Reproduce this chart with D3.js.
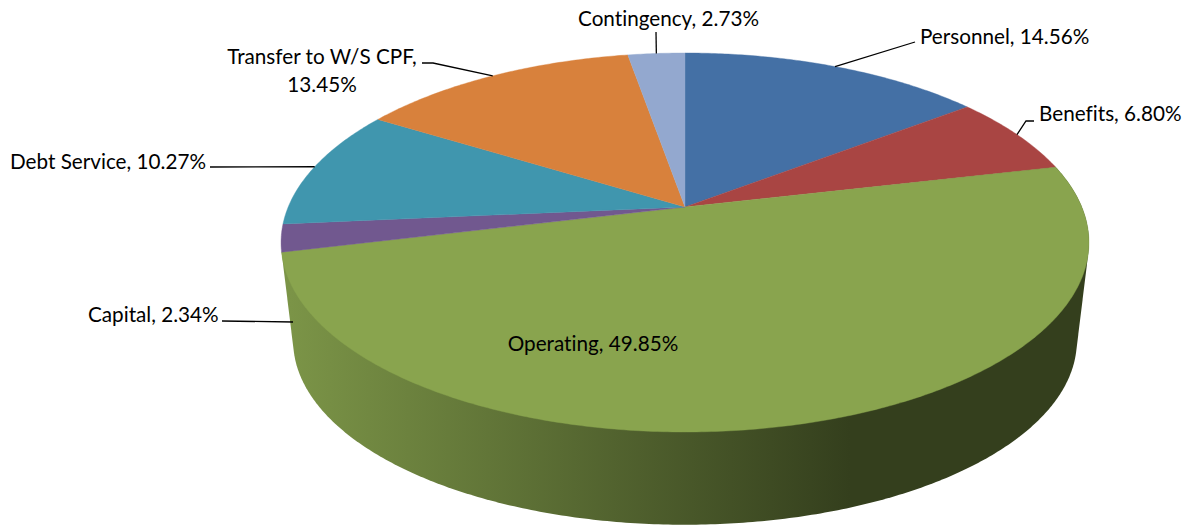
<!DOCTYPE html>
<html lang="en">
<head>
<meta charset="UTF-8" />
<title>Budget pie</title>
<script src="https://cdn.jsdelivr.net/npm/d3@7"></script>
<style>
  html, body { margin: 0; padding: 0; background: #fff; overflow: hidden; }
  text { font-family: Lato, "Open Sans", sans-serif; font-size: 20.7px; fill: #000; font-variant-ligatures: none; }
</style>
</head>
<body>
<div id="chart"></div>
<script>
const categories = ['Personnel', 'Benefits', 'Operating', 'Capital', 'Debt Service', 'Transfer to W/S CPF', 'Contingency'];
const values = [14.56, 6.80, 49.85, 2.34, 10.27, 13.45, 2.73];
const colors = ['#4470a5', '#a94543', '#89a44e', '#71588f', '#4096ae', '#d8813c', '#93a8cf'];

const width = 1184, height = 527;
const svg = d3.select('#chart').append('svg')
  .attr('width', width).attr('height', height)
  .style('display', 'block');

/* tilted disc with perspective: the far edge comes out smaller than the near one */
const cx = 685, persp = 0.1873;
const project = (angle, plane) => {
  const X = Math.sin(angle), Y = Math.cos(angle), w = 1 + persp * Y;
  return [cx + plane.a * X / w, plane.cy - plane.b * Y / w];
};
const topPlane = { a: 396.8, b: 182.85, cy: 207 };
const bottomPlane = { a: 396.8 * 0.97, b: 182.85 * 0.97, cy: 306.5 };

const arcPoints = (a0, a1, plane) => {
  const n = Math.max(2, Math.ceil(Math.abs(a1 - a0) / 0.01));
  return d3.range(n + 1).map(i => project(a0 + (a1 - a0) * i / n, plane));
};

const slices = d3.pie().sort(null)(values);
const operating = slices[categories.indexOf('Operating')];

/* side wall: only the big slice shows a front edge */
const gradX = d3.scaleLinear().domain([0, 1]).range([290, 850]);
const grad = svg.append('defs').append('linearGradient')
  .attr('id', 'wall').attr('gradientUnits', 'userSpaceOnUse')
  .attr('x1', gradX(0)).attr('x2', gradX(1)).attr('y1', 0).attr('y2', 0);
grad.append('stop').attr('offset', 0).attr('stop-color', '#7b9447');
grad.append('stop').attr('offset', 1).attr('stop-color', '#343f1d');

const hull = d3.polygonHull(
  arcPoints(operating.startAngle, operating.endAngle, topPlane)
    .concat(arcPoints(operating.startAngle, operating.endAngle, bottomPlane))
);
svg.append('path')
  .attr('d', 'M' + hull.join('L') + 'Z')
  .attr('fill', 'url(#wall)');

/* top surface */
svg.append('g').selectAll('path')
  .data(slices)
  .join('path')
    .attr('d', d => 'M' + [cx, topPlane.cy] + 'L' + arcPoints(d.startAngle, d.endAngle, topPlane).join('L') + 'Z')
    .attr('fill', (d, i) => colors[i])
    .attr('stroke', (d, i) => colors[i])
    .attr('stroke-width', 0.4);

/* labels, hand placed like the original data labels */
const labelLayout = {
  'Personnel':           { x: 920, y: 44, anchor: 'start', leader: [[915, 42]] },
  'Benefits':            { x: 1039, y: 121, anchor: 'start', leader: [[1034, 121], [1026, 121]] },
  'Operating':           { x: 593, y: 351, anchor: 'middle' },
  'Capital':             { x: 88, y: 322, anchor: 'start', leader: [[222, 321]], end: [293, 322] },
  'Debt Service':        { x: 10, y: 169, anchor: 'start', leader: [[210, 167]] },
  'Transfer to W/S CPF': { x: 322, y: 64, anchor: 'middle', wrap: true, leader: [[422, 63], [433, 63]] },
  'Contingency':         { x: 668.5, y: 26, anchor: 'middle', leader: [[656, 32]] }
};

const labels = svg.append('g');
categories.forEach((name, i) => {
  const l = labelLayout[name], pct = values[i].toFixed(2) + '%';
  if (l.leader) {
    const mid = (slices[i].startAngle + slices[i].endAngle) / 2;
    const pts = l.leader.concat([l.end || project(mid, topPlane)]);
    labels.append('path')
      .attr('d', d3.line()(pts))
      .attr('fill', 'none')
      .attr('stroke', '#000')
      .attr('stroke-width', 1.3);
  }
  const t = labels.append('text')
    .attr('x', l.x).attr('y', l.y)
    .attr('text-anchor', l.anchor);
  if (l.wrap) {
    t.append('tspan').attr('x', l.x).text(name + ',');
    t.append('tspan').attr('x', l.x).attr('dy', 28).text(pct);
  } else {
    t.text(name + ', ' + pct);
  }
});
</script>
</body>
</html>
